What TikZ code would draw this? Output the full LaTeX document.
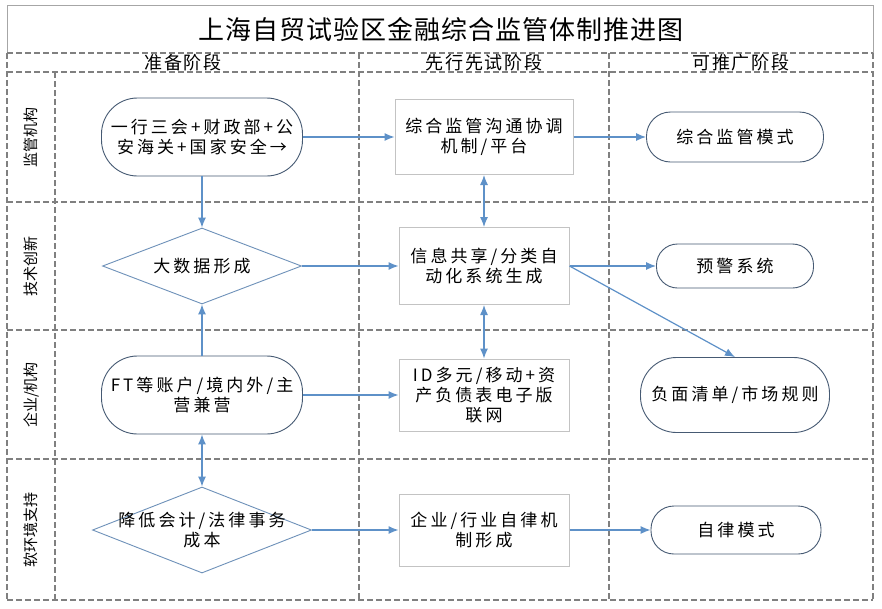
\documentclass[tikz,border=0pt]{standalone}
\usepackage{fontspec}
\usepackage{tikz}
\usetikzlibrary{arrows.meta,shapes.geometric}
\newfontfamily\cjkbody[LetterSpace=18]{Noto Sans CJK SC}
\newfontfamily\cjkhead[LetterSpace=10]{Noto Sans CJK SC}
\newfontfamily\cjktitle[LetterSpace=4]{Noto Sans CJK SC}
\newfontfamily\cjklane{Noto Sans CJK SC}
\definecolor{gridgray}{RGB}{128,128,128}
\definecolor{arrowblue}{RGB}{94,145,200}
\definecolor{ovalline}{RGB}{70,90,115}
\definecolor{boxline}{RGB}{195,195,195}
\definecolor{diamline}{RGB}{110,145,185}

\begin{document}
\begin{tikzpicture}[x=1pt,y=-1pt,
    grid/.style={draw=gridgray, line width=1.1pt, dash pattern=on 6pt off 3pt},
    txt/.style={font=\cjkbody\fontsize{17}{20}\selectfont, align=center, inner sep=2pt},
    oval/.style={txt, draw=ovalline, line width=0.9pt, rectangle, rounded corners=#1},
    oval/.default=36pt,
    stagebox/.style={txt, draw=boxline, line width=1pt, rectangle},
    diam/.style={draw=diamline, line width=0.9pt, diamond, inner sep=0pt},
    flow/.style={draw=arrowblue, line width=1.2pt, -{Latex[length=10pt,width=8pt]}},
    flowboth/.style={draw=arrowblue, line width=1.2pt, {Latex[length=10pt,width=8pt]}-{Latex[length=10pt,width=8pt]}},
    lanelabel/.style={font=\cjklane\fontsize{15}{18}\selectfont, rotate=90}]
  \useasboundingbox[fill=white] (0,0) rectangle (882,608);

  % frame and lanes
  \draw[gridgray!70, line width=1pt] (7,53) -- (7,5) -- (873,5) -- (873,53);
  \foreach \y in {53,72,202,330,459,600}
    \draw[grid] (7,\y) -- (873,\y);
  \draw[grid] (7,53) -- (7,600);
  \draw[grid] (873,53) -- (873,600);
  \draw[grid] (55,72) -- (55,600);
  \draw[grid] (359,53) -- (359,600);
  \draw[grid] (609,53) -- (609,600);

  \node (title) at (441,30) {\cjktitle\fontsize{26}{30}\selectfont 上海自贸试验区金融综合监管体制推进图};
  \node[font=\cjkhead\fontsize{18}{20}\selectfont] (h1) at (183,62.5) {准备阶段};
  \node[font=\cjkhead\fontsize{18}{20}\selectfont] (h2) at (484,62.5) {先行先试阶段};
  \node[font=\cjkhead\fontsize{18}{20}\selectfont] (h3) at (741,62.5) {可推广阶段};

  \node[lanelabel] (l1) at (31,137) {监管机构};
  \node[lanelabel] (l2) at (31,266) {技术创新};
  \node[lanelabel] (l3) at (31,395) {企业/机构};
  \node[lanelabel] (l4) at (31,530) {软环境支持};

  % first stage
  \node[oval, minimum width=201pt, minimum height=78pt] (n1) at (202,137) {一行三会+财政部+公\\安海关+国家安全→};
  \node[diam, minimum width=199pt, minimum height=76pt] (n2) at (202,266) {};
  \node[txt] at (n2.center) {大数据形成};
  \node[oval, minimum width=201pt, minimum height=78pt] (n3) at (202,395) {FT等账户/境内外/主\\营兼营};
  \node[diam, minimum width=219pt, minimum height=86pt] (n4) at (202,530) {};
  \node[txt] at (n4.center) {降低会计/法律事务\\成本};

  % second stage
  \node[stagebox, minimum width=178pt, minimum height=75pt] (n5) at (484,137) {综合监管沟通协调\\机制/平台};
  \node[stagebox, minimum width=170pt, minimum height=77pt] (n6) at (484,266) {信息共享/分类自\\动化系统生成};
  \node[stagebox, minimum width=170pt, minimum height=72pt] (n7) at (484,395) {ID多元/移动+资\\产负债表电子版\\联网};
  \node[stagebox, minimum width=170pt, minimum height=72pt] (n8) at (484,530) {企业/行业自律机\\制形成};

  % third stage
  \node[oval=24pt, minimum width=177pt, minimum height=50pt] (n9) at (735,137) {综合监管模式};
  \node[oval=21pt, minimum width=157pt, minimum height=44pt] (n10) at (735,266) {预警系统};
  \node[oval=36pt, minimum width=189pt, minimum height=75pt] (n11) at (735,395) {负面清单/市场规则};
  \node[oval=23pt, minimum width=170pt, minimum height=48pt] (n12) at (736,530) {自律模式};

  % connectors
  \draw[flow] (n1) -- (n5);
  \draw[flow] (n5) -- (n9);
  \draw[flow] (n1) -- (n2);
  \draw[flowboth] (n5) -- (n6);
  \draw[flow] (n2) -- (n6);
  \draw[flow] (n6) -- (n10);
  \draw[flow] (n6.east) -- (n11.north);
  \draw[flowboth] (n6) -- (n7);
  \draw[flow] (n3) -- (n2);
  \draw[flow] (n3) -- (n7);
  \draw[flowboth] (n3) -- (n4);
  \draw[flow] (n4) -- (n8);
  \draw[flow] (n8) -- (n12);
\end{tikzpicture}
\end{document}
